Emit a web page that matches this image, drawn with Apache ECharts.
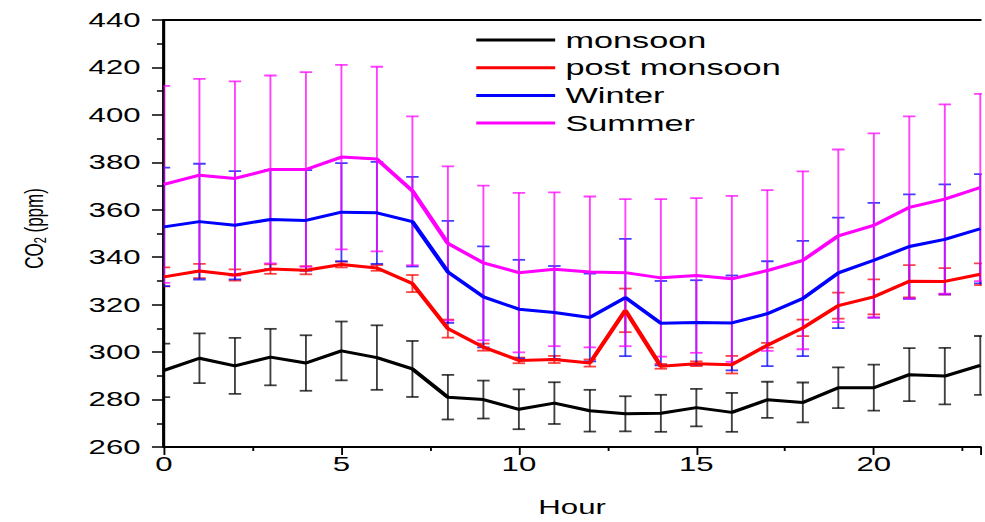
<!DOCTYPE html>
<html>
<head>
<meta charset="utf-8">
<script src="https://cdn.jsdelivr.net/npm/echarts@6/dist/echarts.min.js"></script>
<style>
html,body{margin:0;padding:0;background:#fff;overflow:hidden;}
#wrap{width:985px;height:522px;overflow:hidden;position:relative;}
#chart{width:632px;height:522px;transform:scaleX(1.5585);transform-origin:0 0;position:absolute;left:0;top:0;}
</style>
</head>
<body>
<div id="wrap"><div id="chart"></div></div>
<script>
// ---- data ----
const hours = [0,1,2,3,4,5,6,7,8,9,10,11,12,13,14,15,16,17,18,19,20,21,22,23];
const seriesNames = ['monsoon', 'post monsoon', 'Winter', 'Summer'];
const monsoon = [292.3,297.4,294.2,297.9,295.4,300.5,297.7,292.9,281.0,280.0,275.9,278.5,275.3,274.0,274.2,276.6,274.6,279.9,278.8,285.0,285.0,290.5,289.9,294.4];
const monsoonErr = [11.3,10.5,11.8,11.9,11.7,12.4,13.6,11.8,9.4,8.0,8.4,8.8,8.8,7.4,7.8,7.9,8.2,7.6,8.4,8.6,9.7,11.2,11.9,12.4];
const postMonsoon = [331.7,334.2,332.5,335.0,334.5,336.9,335.5,328.9,309.9,302.1,296.5,296.9,295.4,317.6,294.0,295.1,294.7,302.9,310.2,319.6,323.3,329.9,329.8,332.8];
const postMonsoonErr = [4.0,3.0,2.4,2.0,1.7,1.2,1.2,3.6,3.8,1.5,1.2,1.5,1.5,9.2,1.0,1.0,3.7,1.0,3.5,5.5,7.4,6.8,5.6,4.6];
const winter = [352.8,355.0,353.5,355.9,355.5,359.0,358.7,355.0,333.8,323.3,318.1,316.7,314.6,323.0,312.2,312.5,312.3,316.2,322.6,333.4,338.7,344.5,347.5,352.0];
const winterErr = [25.0,24.4,22.8,20.9,21.2,20.7,21.5,18.9,21.5,21.3,20.8,19.6,18.5,24.7,17.8,17.8,20.0,22.1,24.3,23.3,24.2,22.0,23.2,23.0];
const summer = [370.7,374.6,373.2,377.0,377.0,382.2,381.4,368.0,345.8,337.6,333.5,334.9,333.8,333.5,331.3,332.3,330.9,334.4,338.7,349.0,353.4,361.0,364.5,369.4];
const summerErr = [41.5,40.6,40.9,39.6,41.0,38.9,38.9,31.4,32.5,32.6,33.6,32.4,31.8,31.0,33.2,32.6,35.0,33.9,37.5,36.4,38.8,38.4,39.9,39.5];
const yTicks = [260,280,300,320,340,360,380,400,420,440];
const xTicks = [0,5,10,15,20];

const colors = ['#000000', '#ff0000', '#0000ff', '#ff00ff'];
const means = [monsoon, postMonsoon, winter, summer];
const errs = [monsoonErr, postMonsoonErr, winterErr, summerErr];
const FONT = 'Liberation Sans, Arial, sans-serif';

function errRender(color) {
  return function (params, api) {
    const x = api.value(0), lo = api.value(1), hi = api.value(2);
    const pTop = api.coord([x, hi]);
    const pBot = api.coord([x, lo]);
    const hw = 4;
    const vStyle = { stroke: color, lineWidth: 1.2, opacity: 0.75 };
    const cStyle = { stroke: color, lineWidth: 1.8, opacity: 0.75 };
    return {
      type: 'group',
      children: [
        { type: 'line', shape: { x1: pTop[0], y1: pTop[1], x2: pBot[0], y2: pBot[1] }, style: vStyle },
        { type: 'line', shape: { x1: pTop[0] - hw, y1: pTop[1], x2: pTop[0] + hw, y2: pTop[1] }, style: cStyle },
        { type: 'line', shape: { x1: pBot[0] - hw, y1: pBot[1], x2: pBot[0] + hw, y2: pBot[1] }, style: cStyle }
      ]
    };
  };
}

const series = [];
seriesNames.forEach((name, i) => {
  series.push({
    name: name + ' error',
    type: 'custom',
    clip: true,
    z: 1,
    renderItem: errRender(colors[i]),
    data: hours.map((h, k) => [h, means[i][k] - errs[i][k], means[i][k] + errs[i][k]])
  });
});
seriesNames.forEach((name, i) => {
  series.push({
    name: name,
    type: 'line',
    z: 5,
    symbol: 'none',
    lineStyle: { color: colors[i], width: 3 },
    itemStyle: { color: colors[i] },
    data: hours.map((h, k) => [h, means[i][k]])
  });
});

const chart = echarts.init(document.getElementById('chart'), null, { renderer: 'svg' });
chart.setOption({
  animation: false,
  backgroundColor: '#ffffff',
  textStyle: { fontFamily: FONT },
  grid: { left: 105.2, right: 0, top: 20, bottom: 75, containLabel: false },
  legend: {
    data: seriesNames,
    orient: 'vertical',
    left: 305.6,
    top: 29,
    padding: 0,
    icon: 'rect',
    itemWidth: 50.6,
    itemHeight: 3,
    itemGap: 5.7,
    textStyle: { fontFamily: FONT, fontSize: 22, color: '#000', lineHeight: 22, padding: [0, 0, 0, 1.6] },
    selectedMode: false
  },
  xAxis: [{
    type: 'value',
    min: 0, max: 23, interval: 5,
    name: 'Hour',
    nameLocation: 'middle',
    nameGap: 50,
    nameTextStyle: { fontFamily: FONT, fontSize: 20, color: '#000' },
    axisLine: { show: true, onZero: false, lineStyle: { color: '#000', width: 2 } },
    axisTick: { show: true, inside: false, length: 8, lineStyle: { color: '#000', width: 1.2 } },
    minorTick: { show: true, splitNumber: 2, length: 4, lineStyle: { color: '#000', width: 1.2 } },
    axisLabel: { show: true, margin: 7, fontFamily: FONT, fontSize: 20, color: '#000',
      formatter: v => (xTicks.indexOf(v) >= 0 ? String(v) : '') },
    splitLine: { show: false }
  }, {
    type: 'value',
    position: 'top',
    min: 0, max: 23,
    axisLine: { show: true, onZero: false, lineStyle: { color: '#000', width: 2 } },
    axisTick: { show: false },
    axisLabel: { show: false },
    splitLine: { show: false }
  }],
  yAxis: {
    type: 'value',
    min: 260, max: 440, interval: 20,
    name: 'CO{s|2} (ppm)',
    nameLocation: 'middle',
    nameGap: 74,
    nameTextStyle: {
      color: '#000',
      fontFamily: FONT,
      fontSize: 17,
      padding: [0, 0, 0, 10],
      rich: {
        s: { fontFamily: FONT, fontSize: 11, color: '#000', verticalAlign: 'bottom', padding: [8, 0, 0, 0] }
      }
    },
    axisLine: { show: true, onZero: false, lineStyle: { color: '#000', width: 2 } },
    axisTick: { show: true, inside: false, length: 7.7, lineStyle: { color: '#000', width: 1.5 } },
    minorTick: { show: true, splitNumber: 2, length: 4.5, lineStyle: { color: '#000', width: 1.5 } },
    axisLabel: { show: true, margin: 15, fontFamily: FONT, fontSize: 20, color: '#000',
      formatter: v => (yTicks.indexOf(v) >= 0 ? String(v) : '') },
    splitLine: { show: false }
  },
  series: series
});
</script>
</body>
</html>
